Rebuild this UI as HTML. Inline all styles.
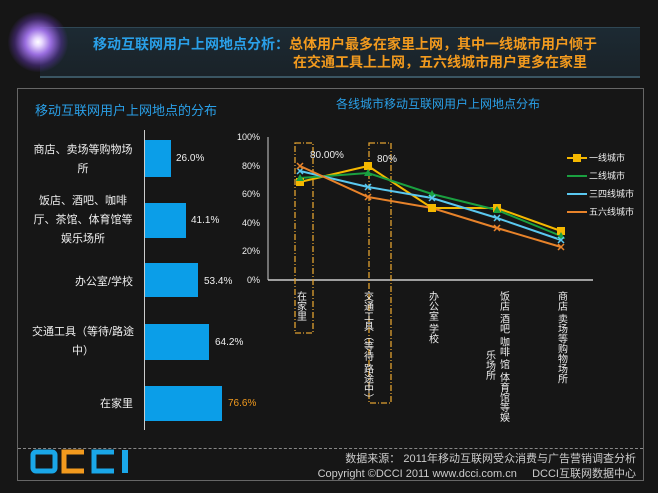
<!DOCTYPE html><html><head><meta charset="utf-8"><style>
body{margin:0;width:658px;height:493px;background:#161616;overflow:hidden;font-family:"Liberation Sans","Noto Sans CJK SC",sans-serif;position:relative}
.a{position:absolute}
.l{position:absolute;left:28px;width:110px;font-size:11px;color:#eee;line-height:19px;text-align:center;white-space:nowrap}
</style></head><body>
<div class="a" style="left:40px;top:27px;width:600px;height:48px;background:linear-gradient(#1c2a33,#1a2228);border-top:1px solid #2f4754;border-bottom:2px solid #3a5562"></div>
<div class="a" style="left:8px;top:12px;width:60px;height:60px;border-radius:50%;background:radial-gradient(circle,#fff 0,#e8d8ff 10%,#9a6ee0 30%,rgba(90,50,160,.5) 55%,rgba(0,0,0,0) 72%)"></div>
<div class="a" style="left:93px;top:34px;font-size:14px;font-weight:bold;color:#2aa0e8;white-space:nowrap">移动互联网用户上网地点分析：<span style="color:#f29a1e">总体用户最多在家里上网，其中一线城市用户倾于</span></div>
<div class="a" style="left:293px;top:52px;font-size:14px;font-weight:bold;color:#f29a1e;white-space:nowrap">在交通工具上上网，五六线城市用户更多在家里</div>
<div class="a" style="left:17px;top:88px;width:627px;height:393px;border:1px solid #666;box-sizing:border-box"></div>
<div class="a" style="left:18px;top:448px;width:625px;border-top:1px dashed #888"></div>
<div class="a" style="left:35px;top:100px;font-size:13px;color:#2aa0e8">移动互联网用户上网地点的分布</div>
<div class="a" style="left:144px;top:130px;width:1px;height:300px;background:#ccc"></div>
<div class="l" style="top:141px">商店、卖场等购物场<br>所</div>
<div class="l" style="top:192px">饭店、酒吧、咖啡<br>厅、茶馆、体育馆等<br>娱乐场所</div>
<div class="l" style="top:273px;text-align:right;width:105px">办公室/学校</div>
<div class="l" style="top:323px">交通工具（等待/路途<br>中）</div>
<div class="l" style="top:395px;text-align:right;width:105px">在家里</div>
<div class="a" style="left:145px;top:140px;width:26px;height:37px;background:#0b9ee8"></div>
<div class="a" style="left:176px;top:153px;font-size:10px;color:#eee">26.0%</div>
<div class="a" style="left:145px;top:203px;width:41px;height:35px;background:#0b9ee8"></div>
<div class="a" style="left:191px;top:215px;font-size:10px;color:#eee">41.1%</div>
<div class="a" style="left:145px;top:263px;width:53px;height:34px;background:#0b9ee8"></div>
<div class="a" style="left:204px;top:276px;font-size:10px;color:#eee">53.4%</div>
<div class="a" style="left:145px;top:324px;width:64px;height:36px;background:#0b9ee8"></div>
<div class="a" style="left:215px;top:337px;font-size:10px;color:#eee">64.2%</div>
<div class="a" style="left:145px;top:386px;width:77px;height:35px;background:#0b9ee8"></div>
<div class="a" style="left:228px;top:398px;font-size:10px;color:#f29a1e">76.6%</div>
<svg class="a" style="left:0;top:0" width="658" height="493" font-family="Liberation Sans,Noto Sans CJK SC,sans-serif">
<text x="438" y="108" font-size="12" fill="#2aa0e8" text-anchor="middle">各线城市移动互联网用户上网地点分布</text>
<g font-size="9" fill="#eee" text-anchor="end"><text x="260" y="140">100%</text><text x="260" y="169">80%</text><text x="260" y="197">60%</text><text x="260" y="226">40%</text><text x="260" y="254">20%</text><text x="260" y="283">0%</text></g>
<line x1="268" y1="137" x2="268" y2="280" stroke="#ccc"/><line x1="268" y1="280" x2="593" y2="280" stroke="#ccc" stroke-width="1.5"/>
<g fill="none" stroke="#e0a030" stroke-width="1.3" stroke-dasharray="6,2,1,2"><rect x="295" y="143" width="18" height="190"/><rect x="369" y="143" width="22" height="260"/></g>
<g font-size="10" fill="#eee"><text x="310" y="158">80.00%</text><text x="377" y="162">80%</text></g>
<g stroke-width="2" fill="none">
<polyline stroke="#f5b800" points="300,182 368,166 432,208 497,208 561,231"/>
<polyline stroke="#1aa040" points="300,178 368,173 432,194 497,210 561,236"/>
<polyline stroke="#5ac8f0" points="300,171 368,187 432,198 497,218 561,240"/>
<polyline stroke="#e8832a" points="300,166 368,197 432,208 497,228 561,247"/>
</g>
<g fill="#f5b800"><rect x="296" y="178" width="8" height="8"/><rect x="364" y="162" width="8" height="8"/><rect x="428" y="204" width="8" height="8"/><rect x="493" y="204" width="8" height="8"/><rect x="557" y="227" width="8" height="8"/></g>
<g fill="#1aa040"><path d="M300 174l4 7h-8zM368 169l4 7h-8zM432 190l4 7h-8zM497 206l4 7h-8zM561 232l4 7h-8z"/></g>
<g stroke="#5ac8f0" stroke-width="1.5"><path d="M297 168l6 6M303 168l-6 6M365 184l6 6M371 184l-6 6M429 195l6 6M435 195l-6 6M494 215l6 6M500 215l-6 6M558 237l6 6M564 237l-6 6"/></g>
<g stroke="#e8832a" stroke-width="1.5"><path d="M297 163l6 6M303 163l-6 6M365 194l6 6M371 194l-6 6M494 225l6 6M500 225l-6 6M558 244l6 6M564 244l-6 6"/></g>
<g font-size="9" fill="#eee">
<line x1="567" y1="158" x2="587" y2="158" stroke="#f5b800" stroke-width="2"/><rect x="573" y="154" width="8" height="8" fill="#f5b800"/><text x="589" y="161">一线城市</text>
<line x1="567" y1="176" x2="587" y2="176" stroke="#1aa040" stroke-width="2"/><text x="589" y="179">二线城市</text>
<line x1="567" y1="194" x2="587" y2="194" stroke="#5ac8f0" stroke-width="2"/><text x="589" y="197">三四线城市</text>
<line x1="567" y1="212" x2="587" y2="212" stroke="#e8832a" stroke-width="2"/><text x="589" y="215">五六线城市</text>
</g>
<g font-size="10" fill="#eee" style="writing-mode:tb">
<text x="300" y="291">在家里</text>
<text x="367" y="291">交通工具（等待 路途中）</text>
<text x="432" y="291">办公室 学校</text>
<text x="503" y="291">饭店  酒吧  咖啡  馆  体育馆等娱</text>
<text x="489" y="350">乐场所</text>
<text x="561" y="291">商店  卖场等购物场所</text>
</g>
<rect x="33" y="452" width="22" height="19" rx="3" fill="none" stroke="#1aa7e8" stroke-width="5"/>
<path d="M84 452h-20v19h20" fill="none" stroke="#f29a1e" stroke-width="5"/>
<path d="M114 452h-20v19h20" fill="none" stroke="#1aa7e8" stroke-width="5"/>
<rect x="122" y="450" width="6" height="23" fill="#1aa7e8"/>
<g font-size="11" fill="#ccc" text-anchor="end"><text x="636" y="462">数据来源： 2011年移动互联网受众消费与广告营销调查分析</text><text x="636" y="477">Copyright ©DCCI 2011 www.dcci.com.cn &#160;&#160;&#160;&#160;DCCI互联网数据中心</text></g>
</svg>
</body></html>
